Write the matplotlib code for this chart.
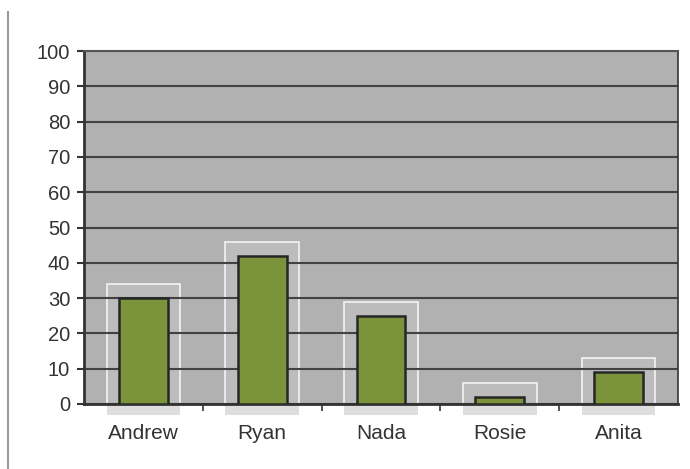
import matplotlib.pyplot as plt
from matplotlib.patches import Rectangle
from matplotlib.lines import Line2D

names = ["Andrew", "Ryan", "Nada", "Rosie", "Anita"]
values = [30, 42, 25, 2, 9]
yticks = [0, 10, 20, 30, 40, 50, 60, 70, 80, 90, 100]

plt.rcParams['font.family'] = ['Liberation Sans', 'DejaVu Sans']

fig = plt.figure(figsize=(6.9, 4.69), dpi=100)
ax = fig.add_axes([0.1217, 0.1386, 0.8609, 0.7524])
ax.set_facecolor("#b1b1b1")

x = list(range(len(names)))

# pale scan halos behind each bar
for xi, v in zip(x, values):
    ax.add_patch(Rectangle((xi - 0.31, 0), 0.62, v + 4, facecolor="#bcbcbc",
                           edgecolor="#f4f4f4", linewidth=1.2, zorder=1))
    ax.add_patch(Rectangle((xi - 0.31, -3), 0.62, 3, facecolor="#dedede",
                           edgecolor="none", zorder=1, clip_on=False))

ax.bar(x, values, width=0.41, color="#7b933a", edgecolor="#262626",
       linewidth=1.8, zorder=3)

ax.set_xlim(-0.5, 4.5)
ax.set_ylim(0, 100)
ax.set_yticks(yticks)
ax.yaxis.grid(True, color="#424242", linewidth=1.5)
for line in ax.get_ygridlines():
    line.set_zorder(2)

ax.set_xticks(x)
ax.set_xticklabels(names, fontsize=15, color="#333333")
ax.tick_params(axis="x", length=0, pad=14.5)
ax.set_xticks([0.5, 1.5, 2.5, 3.5], minor=True)
ax.tick_params(axis="x", which="minor", length=5, width=1.2, color="#333333")
ax.tick_params(axis="y", labelsize=14.5, labelcolor="#333333", length=5,
               width=1.5, color="#333333", pad=5)

for s in ["left", "bottom", "right"]:
    ax.spines[s].set_color("#333333")
    ax.spines[s].set_linewidth(2)
ax.spines["top"].set_color("#555555")
ax.spines["top"].set_linewidth(1.5)
ax.spines["right"].set_linewidth(1.2)

# scanned page margin line
fig.add_artist(Line2D([0.012, 0.012], [0.0, 0.975], color="#999999",
                      linewidth=1.5))

fig.savefig("out.png", dpi=100, facecolor="white")
